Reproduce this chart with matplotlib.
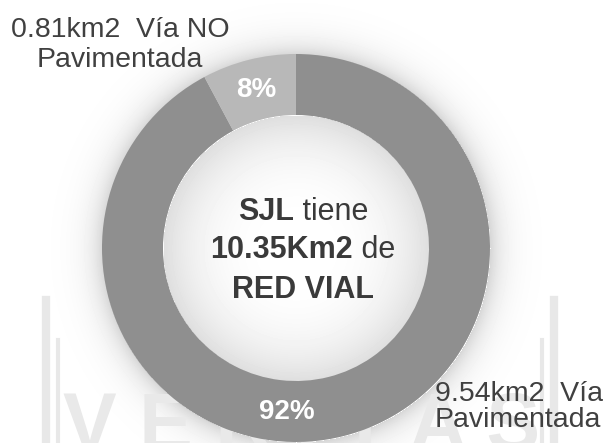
import numpy as np
import matplotlib.pyplot as plt

# datos
etiquetas = ["0.81km2  Vía NO\nPavimentada", "9.54km2  Vía\nPavimentada"]
areas = [0.81, 9.54]
porcentajes = ["8%", "92%"]
colores = ["#b8b8b8", "#8f8f8f"]
centro = [[("SJL", True), (" tiene", False)],
          [("10.35Km2", True), (" de", False)],
          [("RED VIAL", True)]]

W, H = 609, 443
cx, cy = 296, 248          # centro en pixeles de la imagen (y hacia abajo)
r_out, r_in = 194, 133

plt.rcParams['font.family'] = ['Liberation Sans', 'DejaVu Sans']

fig = plt.figure(figsize=(W / 100, H / 100), dpi=100)
ax = fig.add_axes([0, 0, 1, 1])


def Y(y):
    return H - y


# fondo: disco interior degradado y sombra suave alrededor del anillo
yy, xx = np.mgrid[0:H, 0:W]
r = np.hypot(xx - cx, yy - cy)
fondo = np.ones((H, W))
dentro = r < r_in
fondo[dentro] = 1 - 0.13 * (r[dentro] / r_in) ** 3
fuera = r > r_out
fondo[fuera] = 1 - 0.16 * np.exp(-(r[fuera] - r_out) / 14)
ax.imshow(fondo, cmap='gray', vmin=0, vmax=1, extent=(0, W, 0, H),
          origin='upper', zorder=0, interpolation='bilinear')

# marca de agua
ax.text(302, Y(450), "V E R I T A S", fontsize=58, fontweight='bold',
        color='#e9e9e9', ha='center', va='baseline', zorder=1)
for x0, y0, lw in [(46, 300, 6), (58, 340, 3), (554, 300, 6), (542, 340, 3)]:
    ax.plot([x0, x0], [Y(y0), Y(H)], color='#e8e8e8', lw=lw, zorder=1)

# anillo
ax.pie(areas, colors=colores, startangle=90, counterclock=True,
       center=(cx, Y(cy)), radius=r_out,
       wedgeprops=dict(width=r_out - r_in, linewidth=0), frame=True)
ax.set_xlim(0, W)
ax.set_ylim(0, H)
ax.set_aspect('equal')
ax.axis('off')

# porcentajes
ax.text(256, Y(90), porcentajes[0], fontsize=20, fontweight='bold',
        color='white', ha='center', va='center', zorder=5)
ax.text(287, Y(412), porcentajes[1], fontsize=20, fontweight='bold',
        color='white', ha='center', va='center', zorder=5)

# etiquetas laterales
ax.text(120, Y(45), etiquetas[0], fontsize=20.5, color='#404040',
        ha='center', va='center', linespacing=1.2, zorder=5)
ax.text(435, Y(407), etiquetas[1], fontsize=20.5, color='#404040',
        ha='left', va='center', linespacing=1.0, zorder=5)

# texto central, con partes en negrita, centrado linea por linea
tc = '#3a3a3a'
fig.canvas.draw()
rend = fig.canvas.get_renderer()
for fila, ytxt in zip(centro, [212, 250, 290]):
    piezas = []
    for s, neg in fila:
        t = ax.text(0, Y(ytxt), s, fontsize=22, color=tc, zorder=5,
                    fontweight='bold' if neg else 'normal',
                    ha='left', va='center')
        piezas.append((t, t.get_window_extent(rend).width))
    total = sum(w for _, w in piezas)
    x = 303 - total / 2
    for t, w in piezas:
        t.set_x(x)
        x += w

fig.savefig("out.png", dpi=100)
